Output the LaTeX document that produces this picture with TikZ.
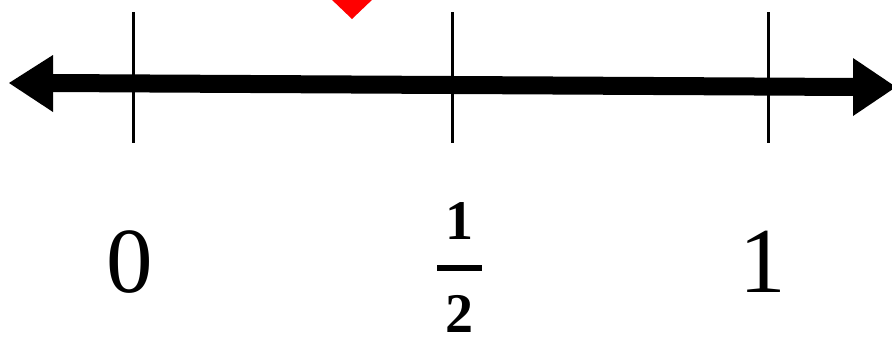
\documentclass[tikz,border=0pt]{standalone}
\usepackage{fontspec}
\setmainfont{Liberation Serif}
\begin{document}
\begin{tikzpicture}[x=1pt,y=-1pt,
  tick/.style={line width=3pt},
  axisline/.style={line width=18pt},
  headfill/.style={fill=black},
  marker/.style={fill=red},
  biglabel/.style={inner sep=0pt,font=\fontsize{93}{93}\selectfont},
  fraclabel/.style={inner sep=0pt,font=\fontsize{56}{56}\selectfont\bfseries}]
\useasboundingbox (0,0) rectangle (892,341);
\begin{scope}
\clip (0,0) rectangle (892,341);
% marker
\fill[marker] (330,-2) -- (374,-2) -- (352,19) -- cycle;
% ticks
\coordinate (t0a) at (133,12); \coordinate (t0b) at (133,143);
\coordinate (t1a) at (452,12); \coordinate (t1b) at (452,143);
\coordinate (t2a) at (768,12); \coordinate (t2b) at (768,143);
\draw[tick] (t0a) -- (t0b);
\draw[tick] (t1a) -- (t1b);
\draw[tick] (t2a) -- (t2b);
% axis
\coordinate (L) at (50,83);
\coordinate (R) at (856,87);
\draw[axisline] (L) -- (R);
\fill[headfill] (9,83) -- (53,55) -- (53,112) -- cycle;
\fill[headfill] (896,87) -- (853,58) -- (853,116) -- cycle;
\end{scope}
% labels
\node[biglabel] (zero) at (130,262) {0};
\node[biglabel] (one) at (763,262) {1};
\node[fraclabel] (num) at (459,221) {1};
\node[fraclabel] (den) at (459,314) {2};
\coordinate (barL) at (437,268);
\coordinate (barR) at (482,268);
\draw[line width=6pt] (barL) -- (barR);
\end{tikzpicture}
\end{document}
